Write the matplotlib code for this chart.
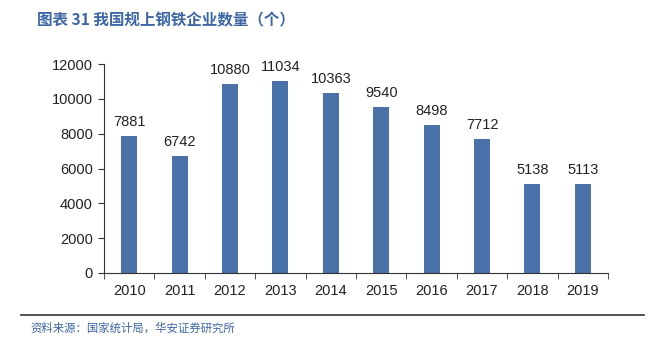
import matplotlib
matplotlib.use("Agg")
import matplotlib.pyplot as plt
from matplotlib.lines import Line2D

years = ["2010", "2011", "2012", "2013", "2014", "2015", "2016", "2017", "2018", "2019"]
counts = [7881, 6742, 10880, 11034, 10363, 9540, 8498, 7712, 5138, 5113]
y_ticks = [0, 2000, 4000, 6000, 8000, 10000, 12000]

title = "图表 31 我国规上钢铁企业数量（个）"
source = "资料来源：国家统计局，华安证券研究所"

bar_color = "#4a71a8"
text_blue = "#3d66a4"

plt.rcParams["font.family"] = ["Liberation Sans", "Noto Sans CJK SC", "DejaVu Sans"]

fig = plt.figure(figsize=(6.53, 3.49), dpi=100)
ax = fig.add_axes([104 / 653, 1 - 273 / 349, (608 - 104) / 653, (273 - 64) / 349])

x = range(len(years))
ax.bar(x, counts, width=0.32, color=bar_color, zorder=2)
for i, v in enumerate(counts):
    ax.text(i, v + 400, str(v), ha="center", va="bottom", fontsize=10.5, color="#222222")

ax.set_xlim(-0.5, len(years) - 0.5)
ax.set_ylim(0, 12000)
ax.set_yticks(y_ticks)
ax.set_yticklabels([str(t) for t in y_ticks], fontsize=10.5, color="#222222")
ax.set_xticks(list(x))
ax.set_xticklabels(years, fontsize=10.5, color="#222222")
ax.set_xticks([i + 0.5 for i in range(-1, len(years))], minor=True)
ax.tick_params(axis="x", which="major", length=0, pad=8)
ax.tick_params(axis="x", which="minor", length=4, direction="out", color="#333333")
ax.tick_params(axis="y", length=4, direction="out", color="#333333", pad=4)
for s in ["top", "right"]:
    ax.spines[s].set_visible(False)
ax.spines["left"].set_color("#333333")
ax.spines["bottom"].set_color("#333333")

fig.text(37 / 653, 1 - 20 / 349, title, fontsize=11.2, fontweight="bold", color=text_blue,
         va="center", ha="left", family=["Noto Sans CJK SC", "DejaVu Sans"])
fig.add_artist(Line2D([21 / 653, 644 / 653], [1 - 315 / 349, 1 - 315 / 349],
                      color="#333333", linewidth=1.2, transform=fig.transFigure))
fig.text(30 / 653, 1 - 328 / 349, source, fontsize=8.2, color=text_blue,
         va="center", ha="left", family=["Noto Sans CJK SC", "DejaVu Sans"])

fig.savefig("out.png", dpi=100)
